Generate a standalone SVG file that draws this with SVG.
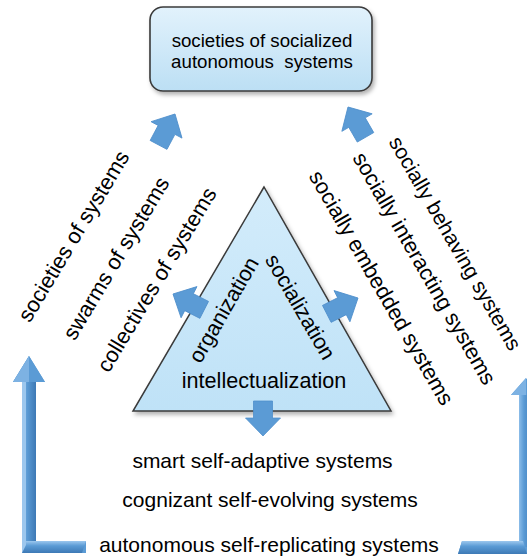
<svg xmlns="http://www.w3.org/2000/svg" xmlns:xlink="http://www.w3.org/1999/xlink" width="527" height="560" viewBox="0 0 527 560">
<style>
text{font-family:"Liberation Sans",Arial,sans-serif;fill:#000;}
.box{font-size:18.7px;text-anchor:middle;white-space:pre;}
.tri{font-size:21.6px;text-anchor:middle;}
.lbl{font-size:21.8px;text-anchor:middle;}
.bot{font-size:21px;text-anchor:middle;}
.arr{fill:#5b9bd5;stroke:#4f8fcb;stroke-width:0.8;}
</style>
<defs>
<linearGradient id="gBox" x1="0" y1="0" x2="0" y2="1">
<stop offset="0" stop-color="#e2f2fc"/>
<stop offset="1" stop-color="#bcdff4"/>
</linearGradient>
<linearGradient id="gTri" x1="0" y1="0" x2="0" y2="1">
<stop offset="0" stop-color="#d3ecfb"/>
<stop offset="1" stop-color="#bfe2f7"/>
</linearGradient>
<linearGradient id="gV" x1="0" y1="0" x2="1" y2="0">
<stop offset="0" stop-color="#8cbde9"/>
<stop offset="0.35" stop-color="#5b9bd5"/>
<stop offset="1" stop-color="#3d79b5"/>
</linearGradient>
<linearGradient id="gH" x1="0" y1="0" x2="0" y2="1">
<stop offset="0" stop-color="#9cc7ee"/>
<stop offset="0.4" stop-color="#5b9bd5"/>
<stop offset="1" stop-color="#3d79b5"/>
</linearGradient>
<filter id="sh" x="-10%" y="-10%" width="125%" height="130%">
<feDropShadow dx="2" dy="3" stdDeviation="2" flood-color="#000" flood-opacity="0.3"/>
</filter>
<path id="blk" d="M0,0 L17.5,18 L9.5,18 L9.5,35 L-9.5,35 L-9.5,18 L-17.5,18 Z"/>
</defs>
<rect width="527" height="560" fill="#fff"/>

<g id="node-societies">
<rect x="150" y="7" width="222" height="84" rx="13" ry="13" fill="url(#gBox)" stroke="#3a3a3a" stroke-width="1.6" filter="url(#sh)"/>
<text class="box" x="262" y="47">societies of socialized</text>
<text class="box" x="262" y="68">autonomous  systems</text>
</g>

<g id="node-triangle">
<polygon points="264,187 133,411 391,411" fill="url(#gTri)" stroke="#3a3a3a" stroke-width="1.5" stroke-linejoin="miter" filter="url(#sh)"/>
<text class="tri" transform="translate(230,313.5) rotate(-60)">organization</text>
<text class="tri" transform="translate(294,310.5) rotate(60)">socialization</text>
<text class="tri" x="264" y="388">intellectualization</text>
</g>

<g id="node-left-labels">
<text class="lbl" transform="translate(80,240) rotate(-59)">societies of systems</text>
<text class="lbl" transform="translate(122.5,262) rotate(-59)">swarms of systems</text>
<text class="lbl" transform="translate(163,283.5) rotate(-59)">collectives of systems</text>
</g>

<g id="node-right-labels">
<text class="lbl" style="font-size:21px" transform="translate(449,247) rotate(60)">socially behaving systems</text>
<text class="lbl" transform="translate(418,272) rotate(60)">socially interacting systems</text>
<text class="lbl" transform="translate(375,291.5) rotate(60)">socially embedded systems</text>
</g>

<g id="node-bottom-labels">
<text class="bot" x="262.5" y="468">smart self-adaptive systems</text>
<text class="bot" x="270" y="507">cognizant self-evolving systems</text>
<text class="bot" x="269" y="552">autonomous self-replicating systems</text>
</g>

<g id="connectors">
<use xlink:href="#blk" href="#blk" class="arr" transform="translate(175,114) rotate(28)"/>
<use xlink:href="#blk" href="#blk" class="arr" transform="translate(348,107) rotate(-30)"/>
<use xlink:href="#blk" href="#blk" class="arr" transform="translate(173,294) rotate(-63)"/>
<use xlink:href="#blk" href="#blk" class="arr" transform="translate(358,298) rotate(63)"/>
<use xlink:href="#blk" href="#blk" class="arr" transform="translate(263,436) rotate(180)"/>
<g id="left-L">
<path d="M29,356 L45,382 L36,382 L36,541 L86,541 L86,553 L22,553 L22,382 L13,382 Z" fill="#5b9bd5"/>
<rect x="22" y="382" width="14" height="165" fill="url(#gV)"/>
<polygon points="22,541 86,541 82,553 22,553" fill="url(#gH)"/>
<polygon points="22,382 26,382 26,545 22,553" fill="#9cc7ee"/>
<polygon points="29,356 45,382 13,382" fill="#5b9bd5"/>
<polygon points="29,356 29,382 13,382" fill="#7db2e3"/>
</g>
<g id="right-L">
<path d="M526,378 L541,395 L533,395 L533,554 L458,554 L462,541 L519,541 L519,395 L511,395 Z" fill="#5b9bd5"/>
<rect x="519" y="395" width="14" height="152" fill="url(#gV)"/>
<polygon points="462,541 523,541 527,554 458,554" fill="url(#gH)"/>
<polygon points="526,378 526,395 511,395" fill="#7db2e3"/>
</g>
</g>
</svg>
